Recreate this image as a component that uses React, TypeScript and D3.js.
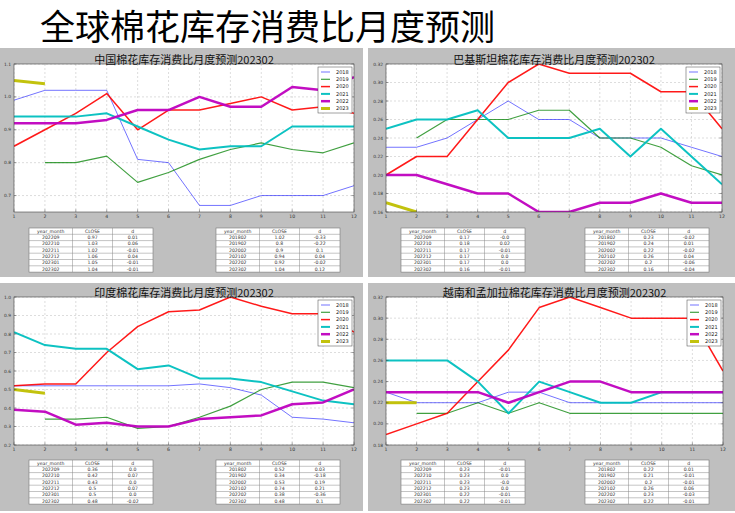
import React from "react";
import * as d3 from "d3";

const months = [1, 2, 3, 4, 5, 6, 7, 8, 9, 10, 11, 12];
const years = ["2018", "2019", "2020", "2021", "2022", "2023"];

// China
const china2018 = [0.99, 1.02, 1.02, 1.02, 0.81, 0.8, 0.67, 0.67, 0.7, 0.7, 0.7, 0.73];
const china2019 = [null, 0.8, 0.8, 0.82, 0.74, 0.77, 0.81, 0.84, 0.86, 0.84, 0.83, 0.86];
const china2020 = [0.85, 0.9, 0.95, 1.01, 0.9, 0.96, 0.96, 0.98, 1.0, 0.96, 0.97, 0.95];
const china2021 = [0.94, 0.94, 0.94, 0.95, 0.91, 0.87, 0.84, 0.85, 0.85, 0.91, 0.91, 0.91];
const china2022 = [0.92, 0.92, 0.92, 0.93, 0.96, 0.96, 1.0, 0.97, 0.97, 1.03, 1.02, 1.06];
const china2023 = [1.05, 1.04];
const chinaTicks = [0.7, 0.8, 0.9, 1.0, 1.1];
const chinaRecent = [["202209", "0.97", "0.01"], ["202210", "1.03", "0.06"], ["202211", "1.02", "-0.01"], ["202212", "1.06", "0.04"], ["202301", "1.05", "-0.01"], ["202302", "1.04", "-0.01"]];
const chinaYoY = [["201802", "1.02", "-0.33"], ["201902", "0.8", "-0.22"], ["202002", "0.9", "0.1"], ["202102", "0.94", "0.04"], ["202202", "0.92", "-0.02"], ["202302", "1.04", "0.12"]];

// Pakistan
const pak2018 = [0.23, 0.23, 0.24, 0.26, 0.28, 0.26, 0.26, 0.24, 0.24, 0.24, 0.23, 0.22];
const pak2019 = [null, 0.24, 0.26, 0.26, 0.26, 0.27, 0.27, 0.24, 0.24, 0.23, 0.21, 0.2];
const pak2020 = [0.2, 0.22, 0.22, 0.26, 0.3, 0.32, 0.31, 0.31, 0.31, 0.29, 0.29, 0.25];
const pak2021 = [0.25, 0.26, 0.26, 0.27, 0.24, 0.24, 0.24, 0.25, 0.22, 0.25, 0.22, 0.19];
const pak2022 = [0.2, 0.2, 0.19, 0.18, 0.18, 0.16, 0.16, 0.17, 0.17, 0.18, 0.17, 0.17];
const pak2023 = [0.17, 0.16];
const pakTicks = [0.16, 0.18, 0.2, 0.22, 0.24, 0.26, 0.28, 0.3, 0.32];
const pakRecent = [["202209", "0.17", "-0.0"], ["202210", "0.18", "0.02"], ["202211", "0.17", "-0.01"], ["202212", "0.17", "0.0"], ["202301", "0.17", "0.0"], ["202302", "0.16", "-0.01"]];
const pakYoY = [["201802", "0.23", "-0.02"], ["201902", "0.24", "0.01"], ["202002", "0.22", "-0.02"], ["202102", "0.26", "0.04"], ["202202", "0.2", "-0.06"], ["202302", "0.16", "-0.04"]];

// India
const india2018 = [0.52, 0.52, 0.52, 0.52, 0.52, 0.52, 0.53, 0.51, 0.47, 0.35, 0.34, 0.32];
const india2019 = [null, 0.34, 0.34, 0.35, 0.29, 0.3, 0.35, 0.41, 0.5, 0.54, 0.54, 0.51];
const india2020 = [0.52, 0.53, 0.53, 0.7, 0.84, 0.92, 0.93, 1.0, 0.95, 0.91, 0.91, 0.81];
const india2021 = [0.81, 0.74, 0.72, 0.72, 0.61, 0.63, 0.56, 0.56, 0.54, 0.49, 0.44, 0.42];
const india2022 = [0.39, 0.38, 0.31, 0.32, 0.3, 0.3, 0.34, 0.35, 0.36, 0.42, 0.43, 0.5];
const india2023 = [0.5, 0.48];
const indiaTicks = [0.2, 0.3, 0.4, 0.5, 0.6, 0.7, 0.8, 0.9, 1.0];
const indiaRecent = [["202209", "0.36", "0.0"], ["202210", "0.42", "0.07"], ["202211", "0.43", "0.0"], ["202212", "0.5", "0.07"], ["202301", "0.5", "0.0"], ["202302", "0.48", "-0.02"]];
const indiaYoY = [["201802", "0.52", "0.03"], ["201902", "0.34", "-0.18"], ["202002", "0.53", "0.19"], ["202102", "0.74", "0.21"], ["202202", "0.38", "-0.36"], ["202302", "0.48", "0.1"]];

// Vietnam & Bangladesh
const vb2018 = [0.23, 0.22, 0.22, 0.22, 0.23, 0.23, 0.22, 0.22, 0.22, 0.22, 0.22, 0.22];
const vb2019 = [null, 0.21, 0.21, 0.22, 0.21, 0.22, 0.21, 0.21, 0.21, 0.21, 0.21, 0.21];
const vb2020 = [0.19, 0.2, 0.21, 0.24, 0.27, 0.31, 0.32, 0.31, 0.3, 0.3, 0.3, 0.25];
const vb2021 = [0.26, 0.26, 0.26, 0.24, 0.21, 0.24, 0.23, 0.22, 0.22, 0.23, 0.23, 0.23];
const vb2022 = [0.23, 0.23, 0.23, 0.23, 0.22, 0.23, 0.24, 0.24, 0.23, 0.23, 0.23, 0.23];
const vb2023 = [0.22, 0.22];
const vbTicks = [0.18, 0.2, 0.22, 0.24, 0.26, 0.28, 0.3, 0.32];
const vbRecent = [["202209", "0.23", "-0.01"], ["202210", "0.23", "0.0"], ["202211", "0.23", "-0.0"], ["202212", "0.23", "0.0"], ["202301", "0.22", "-0.01"], ["202302", "0.22", "-0.01"]];
const vbYoY = [["201802", "0.22", "0.01"], ["201902", "0.21", "-0.01"], ["202002", "0.2", "-0.01"], ["202102", "0.26", "0.06"], ["202202", "0.23", "-0.03"], ["202302", "0.22", "-0.01"]];

const tableHeader = ["year_month", "CLOSE", "d"];

const lineStyles = [
  { color: "#0000ff", width: 1, opacity: 0.55 },
  { color: "#008000", width: 1.2, opacity: 0.75 },
  { color: "#ff0000", width: 1.5, opacity: 0.9 },
  { color: "#00bfbf", width: 2, opacity: 0.95 },
  { color: "#bf00bf", width: 2.5, opacity: 0.95 },
  { color: "#bfbf00", width: 3, opacity: 0.95 },
];

const CJK = "'Noto Sans CJK SC', 'DejaVu Sans', sans-serif";

type PanelProps = {
  id: string;
  title: string;
  gx: number; gy: number; gw: number; gh: number;
  px: number; py: number; pw: number; ph: number;
  domain: [number, number];
  ticks: number[];
  tickFmt: (v: number) => string;
  series: (number | null)[][];
  tables: string[][][];
  tableXs: number[];
  tableY: number;
};

function Table({ x, y, rows }: { x: number; y: number; rows: string[][] }) {
  const colW = [43.5, 40, 40.5];
  const rowH = 6.3;
  const all = [tableHeader, ...rows];
  const colX = [0, colW[0], colW[0] + colW[1]];
  const total = colW[0] + colW[1] + colW[2];
  return (
    <g transform={`translate(${x},${y})`}>
      <rect x={0} y={0} width={total} height={rowH * all.length} fill="#ffffff" stroke="#777" strokeWidth={0.6} />
      {all.map((r, i) => (
        <g key={i}>
          {i > 0 && <line x1={0} x2={total} y1={i * rowH} y2={i * rowH} stroke="#888" strokeWidth={0.5} />}
          {r.map((c, j) => (
            <text key={j} x={colX[j] + colW[j] / 2} y={i * rowH + rowH / 2 + 1.6} fontSize={4.6} textAnchor="middle" fill="#333" fontFamily="'DejaVu Sans', sans-serif">{c}</text>
          ))}
        </g>
      ))}
      {[colX[1], colX[2]].map((cx, k) => (
        <line key={k} x1={cx} x2={cx} y1={0} y2={rowH * all.length} stroke="#888" strokeWidth={0.5} />
      ))}
    </g>
  );
}

function Panel(p: PanelProps) {
  const x = d3.scaleLinear().domain([1, 12]).range([p.px, p.px + p.pw]);
  const y = d3.scaleLinear().domain(p.domain).range([p.py + p.ph, p.py]);
  const line = d3.line<number | null>()
    .defined((d) => d !== null)
    .x((_, i) => x(months[i]))
    .y((d) => y(d as number));
  const lx = p.px + p.pw - 36;
  const ly = p.py + 3;
  return (
    <g>
      <rect x={p.gx} y={p.gy} width={p.gw} height={p.gh} fill="#bfbfbf" />
      <defs>
        <clipPath id={`clip-${p.id}`}>
          <rect x={p.px} y={p.py} width={p.pw} height={p.ph} />
        </clipPath>
      </defs>
      <rect x={p.px} y={p.py} width={p.pw} height={p.ph} fill="#ffffff" />
      {months.map((m) => (
        <line key={`gx${m}`} x1={x(m)} x2={x(m)} y1={p.py} y2={p.py + p.ph} stroke="#bbb" strokeWidth={0.5} strokeDasharray="2,2" />
      ))}
      {p.ticks.map((t) => (
        <line key={`gy${t}`} x1={p.px} x2={p.px + p.pw} y1={y(t)} y2={y(t)} stroke="#bbb" strokeWidth={0.5} strokeDasharray="2,2" />
      ))}
      <g clipPath={`url(#clip-${p.id})`}>
        {p.series.map((s, i) => (
          <path key={i} d={line(s) || ""} fill="none" stroke={lineStyles[i].color} strokeWidth={lineStyles[i].width} strokeOpacity={lineStyles[i].opacity} strokeLinejoin="round" />
        ))}
      </g>
      <rect x={p.px} y={p.py} width={p.pw} height={p.ph} fill="none" stroke="#444" strokeWidth={0.6} />
      {p.ticks.map((t) => (
        <g key={`ty${t}`}>
          <line x1={p.px} x2={p.px + 2.5} y1={y(t)} y2={y(t)} stroke="#444" strokeWidth={0.5} />
          <line x1={p.px + p.pw - 2.5} x2={p.px + p.pw} y1={y(t)} y2={y(t)} stroke="#444" strokeWidth={0.5} />
          <text x={p.px - 3} y={y(t) + 1.5} fontSize={4.4} textAnchor="end" fill="#333" fontFamily="'DejaVu Sans', sans-serif">{p.tickFmt(t)}</text>
        </g>
      ))}
      {months.map((m) => (
        <g key={`tx${m}`}>
          <line x1={x(m)} x2={x(m)} y1={p.py + p.ph} y2={p.py + p.ph - 2.5} stroke="#444" strokeWidth={0.5} />
          <text x={x(m)} y={p.py + p.ph + 6} fontSize={4.6} textAnchor="middle" fill="#333" fontFamily="'DejaVu Sans', sans-serif">{m}</text>
        </g>
      ))}
      <text x={p.px + p.pw / 2} y={p.py - 0.5} fontSize={11} textAnchor="middle" fill="#111" fontFamily={CJK}>{p.title}</text>
      <g>
        <rect x={lx} y={ly} width={34} height={46} fill="#ffffff" stroke="#444" strokeWidth={0.5} />
        {years.map((yr, i) => (
          <g key={yr}>
            <line x1={lx + 3} x2={lx + 12} y1={ly + 5 + i * 7.3} y2={ly + 5 + i * 7.3} stroke={lineStyles[i].color} strokeWidth={lineStyles[i].width} strokeOpacity={lineStyles[i].opacity} />
            <text x={lx + 18} y={ly + 6.8 + i * 7.3} fontSize={5} fill="#222" fontFamily="'DejaVu Sans', sans-serif">{yr}</text>
          </g>
        ))}
      </g>
      {p.tables.map((t, i) => (
        <Table key={i} x={p.tableXs[i]} y={p.tableY} rows={t} />
      ))}
    </g>
  );
}

const fmt1 = (v: number) => v.toFixed(1);
const fmt2 = (v: number) => v.toFixed(2);

export default function App() {
  return (
    <svg width={735} height={513} style={{ position: "absolute", left: 0, top: 0 }}>
      <rect x={0} y={0} width={735} height={513} fill="#ffffff" />
      <text x={40} y={40} fontSize={35} fill="#000" fontFamily={CJK}>全球棉花库存消费比月度预测</text>
      <Panel id="cn" title="中国棉花库存消费比月度预测202302" gx={0} gy={48} gw={363} gh={229} px={14} py={64} pw={340} ph={148}
        domain={[0.65, 1.1]} ticks={chinaTicks} tickFmt={fmt1}
        series={[china2018, china2019, china2020, china2021, china2022, china2023]}
        tables={[chinaRecent, chinaYoY]} tableXs={[29, 216]} tableY={228} />
      <Panel id="pk" title="巴基斯坦棉花库存消费比月度预测202302" gx={368} gy={48} gw={367} gh={229} px={386} py={64} pw={336} ph={148}
        domain={[0.16, 0.32]} ticks={pakTicks} tickFmt={fmt2}
        series={[pak2018, pak2019, pak2020, pak2021, pak2022, pak2023]}
        tables={[pakRecent, pakYoY]} tableXs={[401, 585]} tableY={228} />
      <Panel id="in" title="印度棉花库存消费比月度预测202302" gx={0} gy={283} gw={363} gh={228} px={14} py={297} pw={340} ph={148}
        domain={[0.2, 1.0]} ticks={indiaTicks} tickFmt={fmt1}
        series={[india2018, india2019, india2020, india2021, india2022, india2023]}
        tables={[indiaRecent, indiaYoY]} tableXs={[29, 216]} tableY={460} />
      <Panel id="vb" title="越南和孟加拉棉花库存消费比月度预测202302" gx={368} gy={283} gw={367} gh={228} px={386} py={297} pw={337} ph={148}
        domain={[0.18, 0.32]} ticks={vbTicks} tickFmt={fmt2}
        series={[vb2018, vb2019, vb2020, vb2021, vb2022, vb2023]}
        tables={[vbRecent, vbYoY]} tableXs={[401, 585]} tableY={460} />
    </svg>
  );
}
